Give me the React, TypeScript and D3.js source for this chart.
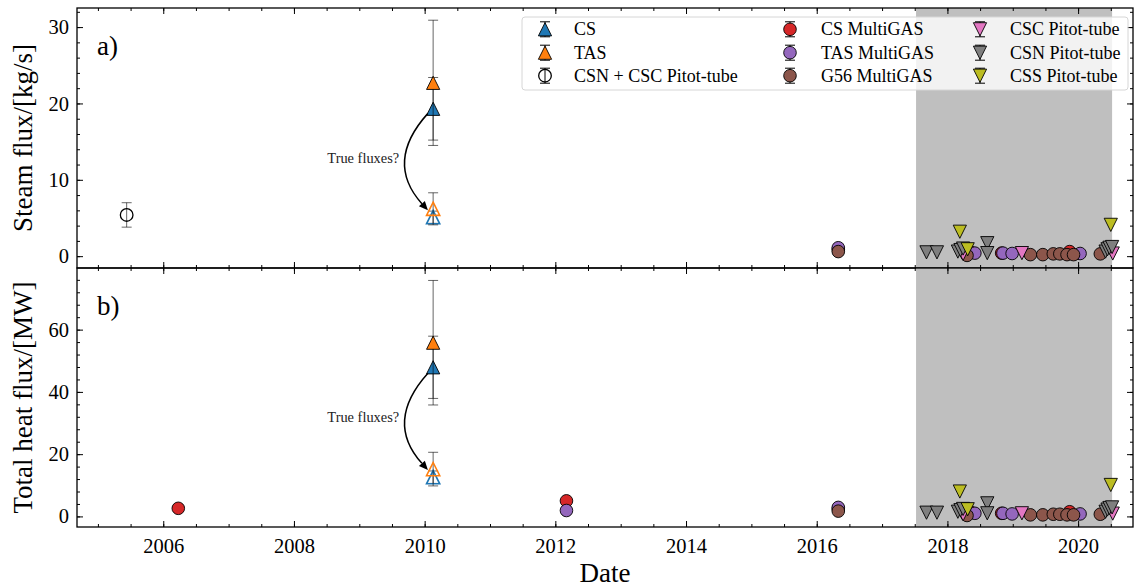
import React, { useEffect, useRef } from 'react';
import * as d3 from 'd3';

// ---- values ----

const YEAR_TICKS = [2006, 2008, 2010, 2012, 2014, 2016, 2018, 2020];
const STEAM_TICKS = [0, 10, 20, 30];
const HEAT_TICKS = [0, 20, 40, 60];

// shaded period (grey band)
const SPAN = [2017.52, 2020.52];

// 2010 crater estimates, filled = reported, open = "true fluxes?"
const CS_DATE = [2010.13];
const CS_STEAM = [19.3];
const CS_STEAM_ERR = [4.1];
const CS_HEAT = [47.9];
const CS_HEAT_ERR = [10.0];
const CS_TRUE_STEAM = [5.1];
const CS_TRUE_STEAM_ERR = [0.8];
const CS_TRUE_HEAT = [12.6];
const CS_TRUE_HEAT_ERR = [2.0];

const TAS_DATE = [2010.13];
const TAS_STEAM = [22.7];
const TAS_STEAM_ERR = [8.2];
const TAS_HEAT = [55.8];
const TAS_HEAT_ERR = [20.0];
const TAS_TRUE_STEAM = [6.2];
const TAS_TRUE_STEAM_ERR = [2.1];
const TAS_TRUE_HEAT = [15.2];
const TAS_TRUE_HEAT_ERR = [5.4];

// CSN + CSC Pitot-tube (2005, steam only)
const CSNCSC_DATE = [2005.44];
const CSNCSC_STEAM = [5.4];
const CSNCSC_STEAM_ERR = [1.6];

// MultiGAS
const CSMG_HEAT_DATES = [2006.23, 2012.17, 2016.33, 2018.36, 2018.83, 2019.87];
const CSMG_HEAT = [2.6, 5.0, 2.4, 1.3, 1.0, 1.5];
const CSMG_STEAM_DATES = [2016.33, 2018.36, 2018.83, 2019.87];
const CSMG_STEAM = [0.9, 0.5, 0.4, 0.6];

const TASMG_HEAT_DATES = [2012.17, 2016.33, 2018.42, 2018.85, 2018.99, 2020.03];
const TASMG_HEAT = [1.9, 2.9, 1.0, 1.0, 0.8, 0.8];
const TASMG_STEAM_DATES = [2016.33, 2018.42, 2018.85, 2018.99, 2020.03];
const TASMG_STEAM = [1.1, 0.4, 0.4, 0.35, 0.35];

const G56_DATES = [2016.33, 2018.3, 2019.27, 2019.46, 2019.62, 2019.72, 2019.83, 2019.93, 2020.34];
const G56_STEAM = [0.6, 0.1, 0.2, 0.2, 0.3, 0.3, 0.2, 0.2, 0.3];
const G56_HEAT = [1.7, 0.3, 0.5, 0.5, 0.7, 0.7, 0.5, 0.5, 0.7];

// Pitot-tube
const CSC_DATES = [2018.24, 2019.14, 2020.53];
const CSC_STEAM = [0.3, 0.4, 0.35];
const CSC_HEAT = [0.7, 1.0, 0.9];

const CSN_DATES = [2017.68, 2017.84, 2018.16, 2018.2, 2018.24, 2018.61, 2018.61, 2020.42, 2020.45, 2020.48, 2020.52];
const CSN_STEAM = [0.5, 0.5, 0.6, 0.8, 1.0, 1.7, 0.4, 0.6, 0.9, 1.1, 1.2];
const CSN_HEAT = [1.2, 1.2, 1.5, 2.0, 2.4, 4.2, 1.0, 1.5, 2.2, 2.7, 2.9];

const CSS_DATES = [2018.19, 2018.31, 2020.5];
const CSS_STEAM = [3.2, 0.9, 4.1];
const CSS_HEAT = [8.0, 2.3, 10.1];

// ---- styling ----
const FONT = '"Liberation Serif", "DejaVu Serif", serif';
const BLUE = '#1f77b4';
const ORANGE = '#ff7f0e';
const RED = '#d62728';
const PURPLE = '#9467bd';
const BROWN = '#8c564b';
const PINK = '#e377c2';
const GREY = '#7f7f7f';
const OLIVE = '#bcbd22';

type Shape = 'up' | 'down' | 'circle';

interface Series {
  dates: number[];
  values: number[];
  errs?: number[];
  shape: Shape;
  fill: string;
  stroke: string;
  strokeWidth: number;
}

const markerPath = (shape: Shape) => {
  const h = 6.6;
  if (shape === 'up') return `M0,${-h}L${h},${h}L${-h},${h}Z`;
  if (shape === 'down') return `M0,${h}L${h},${-h}L${-h},${-h}Z`;
  return d3.symbol().type(d3.symbolCircle).size(Math.PI * 6.3 * 6.3)() as string;
};

const App: React.FC = () => {
  const svgRef = useRef<SVGSVGElement>(null);

  useEffect(() => {
    if (!svgRef.current) return;
    const svg = d3.select(svgRef.current);
    svg.selectAll('*').remove();

    const left = 77;
    const right = 1133;

    const x = d3.scaleLinear().domain([2004.68, 2020.84]).range([left, right]);

    const filled = (dates: number[], values: number[], errs: number[] | undefined, shape: Shape, fill: string): Series =>
      ({ dates, values, errs, shape, fill, stroke: '#000', strokeWidth: 0.9 });
    const open = (dates: number[], values: number[], errs: number[] | undefined, shape: Shape, color: string): Series =>
      ({ dates, values, errs, shape, fill: 'none', stroke: color, strokeWidth: 1.6 });

    const panels = [
      {
        top: 8, bottom: 268, domain: [-1.55, 32.5], ticks: STEAM_TICKS, minor: d3.range(0, 33, 2),
        label: 'Steam flux/[kg/s]', tag: 'a)',
        arrow: { from: [2010.05, 18.7], to: [2010.05, 6.0], text: [2009.61, 12.9] },
        series: [
          filled(CS_DATE, CS_STEAM, CS_STEAM_ERR, 'up', BLUE),
          open(CS_DATE, CS_TRUE_STEAM, CS_TRUE_STEAM_ERR, 'up', BLUE),
          filled(TAS_DATE, TAS_STEAM, TAS_STEAM_ERR, 'up', ORANGE),
          open(TAS_DATE, TAS_TRUE_STEAM, TAS_TRUE_STEAM_ERR, 'up', ORANGE),
          { ...open(CSNCSC_DATE, CSNCSC_STEAM, CSNCSC_STEAM_ERR, 'circle', '#000'), strokeWidth: 1.3 },
          filled(CSMG_STEAM_DATES, CSMG_STEAM, undefined, 'circle', RED),
          filled(TASMG_STEAM_DATES, TASMG_STEAM, undefined, 'circle', PURPLE),
          filled(G56_DATES, G56_STEAM, undefined, 'circle', BROWN),
          filled(CSC_DATES, CSC_STEAM, undefined, 'down', PINK),
          filled(CSN_DATES, CSN_STEAM, undefined, 'down', GREY),
          filled(CSS_DATES, CSS_STEAM, undefined, 'down', OLIVE),
        ] as Series[],
      },
      {
        top: 268, bottom: 527, domain: [-3.4, 79.8], ticks: HEAT_TICKS, minor: d3.range(0, 80, 4),
        label: 'Total heat flux/[MW]', tag: 'b)',
        arrow: { from: [2010.05, 46.0], to: [2010.05, 14.9], text: [2009.61, 32.0] },
        series: [
          filled(CS_DATE, CS_HEAT, CS_HEAT_ERR, 'up', BLUE),
          open(CS_DATE, CS_TRUE_HEAT, CS_TRUE_HEAT_ERR, 'up', BLUE),
          filled(TAS_DATE, TAS_HEAT, TAS_HEAT_ERR, 'up', ORANGE),
          open(TAS_DATE, TAS_TRUE_HEAT, TAS_TRUE_HEAT_ERR, 'up', ORANGE),
          filled(CSMG_HEAT_DATES, CSMG_HEAT, undefined, 'circle', RED),
          filled(TASMG_HEAT_DATES, TASMG_HEAT, undefined, 'circle', PURPLE),
          filled(G56_DATES, G56_HEAT, undefined, 'circle', BROWN),
          filled(CSC_DATES, CSC_HEAT, undefined, 'down', PINK),
          filled(CSN_DATES, CSN_HEAT, undefined, 'down', GREY),
          filled(CSS_DATES, CSS_HEAT, undefined, 'down', OLIVE),
        ] as Series[],
      },
    ];

    const styleAxis = (g: d3.Selection<SVGGElement, unknown, null, undefined>) => {
      g.select('.domain').remove();
      g.selectAll('line').attr('stroke', '#000').attr('stroke-width', 1);
      g.selectAll('text').attr('font-family', FONT).attr('font-size', '20.5px').attr('fill', '#000');
    };

    panels.forEach((p, pi) => {
      const y = d3.scaleLinear().domain(p.domain).range([p.bottom, p.top]);
      const g = svg.append('g');

      // grey period
      g.append('rect')
        .attr('x', x(SPAN[0]))
        .attr('width', x(SPAN[1]) - x(SPAN[0]))
        .attr('y', p.top)
        .attr('height', p.bottom - p.top)
        .attr('fill', '#bfbfbf');

      // data
      p.series.forEach(s => {
        if (s.errs) {
          s.dates.forEach((d, i) => {
            const cx = x(d);
            const lo = y(s.values[i] - s.errs![i]);
            const hi = y(s.values[i] + s.errs![i]);
            const eb = g.append('g').attr('stroke', '#000').attr('stroke-opacity', 0.6).attr('stroke-width', 1);
            eb.append('line').attr('x1', cx).attr('x2', cx).attr('y1', lo).attr('y2', hi);
            [lo, hi].forEach(yy =>
              eb.append('line').attr('x1', cx - 5).attr('x2', cx + 5).attr('y1', yy).attr('y2', yy));
          });
        }
        g.append('g')
          .selectAll('path')
          .data(s.dates.map((d, i) => [d, s.values[i]]))
          .join('path')
          .attr('transform', d => `translate(${x(d[0])},${y(d[1])})`)
          .attr('d', markerPath(s.shape))
          .attr('fill', s.fill)
          .attr('stroke', s.stroke)
          .attr('stroke-width', s.strokeWidth);
      });

      // curved "true fluxes?" arrow
      const x1 = x(p.arrow.from[0]), y1 = y(p.arrow.from[1]);
      const x2 = x(p.arrow.to[0]), y2 = y(p.arrow.to[1]);
      const mx = (x1 + x2) / 2, my = (y1 + y2) / 2;
      const rad = 0.45;
      const qx = mx - rad * (y2 - y1);
      const qy = my + rad * (x2 - x1);
      const len = Math.hypot(x2 - qx, y2 - qy);
      const ux = (x2 - qx) / len, uy = (y2 - qy) / len;
      const headL = 9, headW = 4;
      const bx = x2 - headL * ux, by = y2 - headL * uy;
      g.append('path')
        .attr('d', `M${x1},${y1}Q${qx},${qy} ${bx},${by}`)
        .attr('fill', 'none')
        .attr('stroke', '#000')
        .attr('stroke-width', 1.5);
      g.append('path')
        .attr('d', `M${x2},${y2}L${bx - headW * uy},${by + headW * ux}L${bx + headW * uy},${by - headW * ux}Z`)
        .attr('fill', '#000');
      g.append('text')
        .attr('x', x(p.arrow.text[0]))
        .attr('y', y(p.arrow.text[1]))
        .attr('dy', '0.35em')
        .attr('text-anchor', 'end')
        .attr('font-family', FONT)
        .attr('font-size', '14.4px')
        .attr('fill', '#222')
        .text('True fluxes?');

      // ticks, inward on all four sides
      const bottomAxis = g.append('g').attr('transform', `translate(0,${p.bottom})`)
        .call(d3.axisBottom(x).tickValues(YEAR_TICKS).tickSize(-6).tickPadding(11)
          .tickFormat(d => (pi === panels.length - 1 ? d3.format('d')(d as number) : '')));
      styleAxis(bottomAxis);
      styleAxis(g.append('g').attr('transform', `translate(0,${p.bottom})`)
        .call(d3.axisBottom(x).tickValues(d3.range(2005, 2021, 0.5)).tickSize(-3).tickFormat(() => '')));
      styleAxis(g.append('g').attr('transform', `translate(0,${p.top})`)
        .call(d3.axisTop(x).tickValues(YEAR_TICKS).tickSize(-6).tickFormat(() => '')));
      styleAxis(g.append('g').attr('transform', `translate(0,${p.top})`)
        .call(d3.axisTop(x).tickValues(d3.range(2005, 2021, 0.5)).tickSize(-3).tickFormat(() => '')));

      styleAxis(g.append('g').attr('transform', `translate(${left},0)`)
        .call(d3.axisLeft(y).tickValues(p.ticks).tickSize(-6).tickPadding(8).tickFormat(d3.format('d'))));
      styleAxis(g.append('g').attr('transform', `translate(${left},0)`)
        .call(d3.axisLeft(y).tickValues(p.minor.filter(v => v >= p.domain[0] && v <= p.domain[1])).tickSize(-3).tickFormat(() => '')));
      styleAxis(g.append('g').attr('transform', `translate(${right},0)`)
        .call(d3.axisRight(y).tickValues(p.ticks).tickSize(-6).tickFormat(() => '')));
      styleAxis(g.append('g').attr('transform', `translate(${right},0)`)
        .call(d3.axisRight(y).tickValues(p.minor.filter(v => v >= p.domain[0] && v <= p.domain[1])).tickSize(-3).tickFormat(() => '')));

      // spines
      g.append('rect')
        .attr('x', left).attr('y', p.top)
        .attr('width', right - left).attr('height', p.bottom - p.top)
        .attr('fill', 'none').attr('stroke', '#000').attr('stroke-width', 1.3);

      // y label
      const cy = (p.top + p.bottom) / 2;
      g.append('text')
        .attr('transform', `translate(32,${cy}) rotate(-90)`)
        .attr('text-anchor', 'middle')
        .attr('font-family', FONT)
        .attr('font-size', '27px')
        .text(p.label);

      // panel tag
      g.append('text')
        .attr('x', 97)
        .attr('y', p.top + 47)
        .attr('font-family', FONT)
        .attr('font-size', '27px')
        .text(p.tag);
    });

    svg.append('text')
      .attr('x', (left + right) / 2)
      .attr('y', 582)
      .attr('text-anchor', 'middle')
      .attr('font-family', FONT)
      .attr('font-size', '27px')
      .text('Date');

    // legend (3 columns, filled column by column)
    const legendEntries = [
      { label: 'CS', shape: 'up' as Shape, fill: BLUE, stroke: '#000', sw: 0.9 },
      { label: 'TAS', shape: 'up' as Shape, fill: ORANGE, stroke: '#000', sw: 0.9 },
      { label: 'CSN + CSC Pitot-tube', shape: 'circle' as Shape, fill: 'none', stroke: '#000', sw: 1.3 },
      { label: 'CS MultiGAS', shape: 'circle' as Shape, fill: RED, stroke: '#000', sw: 0.9 },
      { label: 'TAS MultiGAS', shape: 'circle' as Shape, fill: PURPLE, stroke: '#000', sw: 0.9 },
      { label: 'G56 MultiGAS', shape: 'circle' as Shape, fill: BROWN, stroke: '#000', sw: 0.9 },
      { label: 'CSC Pitot-tube', shape: 'down' as Shape, fill: PINK, stroke: '#000', sw: 0.9 },
      { label: 'CSN Pitot-tube', shape: 'down' as Shape, fill: GREY, stroke: '#000', sw: 0.9 },
      { label: 'CSS Pitot-tube', shape: 'down' as Shape, fill: OLIVE, stroke: '#000', sw: 0.9 },
    ];
    const legend = svg.append('g');
    legend.append('rect')
      .attr('x', 522).attr('y', 17).attr('width', 606).attr('height', 73).attr('rx', 3)
      .attr('fill', '#fff').attr('fill-opacity', 0.8)
      .attr('stroke', '#d6d6d6').attr('stroke-width', 1);
    const colMarker = [545, 790, 980];
    const colText = [574, 821, 1010];
    const rowY = [29.3, 52.7, 75.7];
    legendEntries.forEach((e, i) => {
      const col = Math.floor(i / 3);
      const row = i % 3;
      const mx = colMarker[col];
      const my = rowY[row];
      const eb = legend.append('g').attr('stroke', '#000').attr('stroke-width', 1);
      eb.append('line').attr('x1', mx).attr('x2', mx).attr('y1', my - 7.5).attr('y2', my + 7.5);
      [my - 7.5, my + 7.5].forEach(yy =>
        eb.append('line').attr('x1', mx - 5).attr('x2', mx + 5).attr('y1', yy).attr('y2', yy));
      legend.append('path')
        .attr('transform', `translate(${mx},${my})`)
        .attr('d', markerPath(e.shape))
        .attr('fill', e.fill)
        .attr('stroke', e.stroke)
        .attr('stroke-width', e.sw);
      legend.append('text')
        .attr('x', colText[col])
        .attr('y', my)
        .attr('dy', '0.33em')
        .attr('font-family', FONT)
        .attr('font-size', '18px')
        .text(e.label);
    });
  }, []);

  return (
    <svg
      ref={svgRef}
      width={1135}
      height={588}
      viewBox="0 0 1135 588"
      style={{ position: 'absolute', left: 0, top: 0, background: '#fff' }}
    />
  );
};

export default App;
